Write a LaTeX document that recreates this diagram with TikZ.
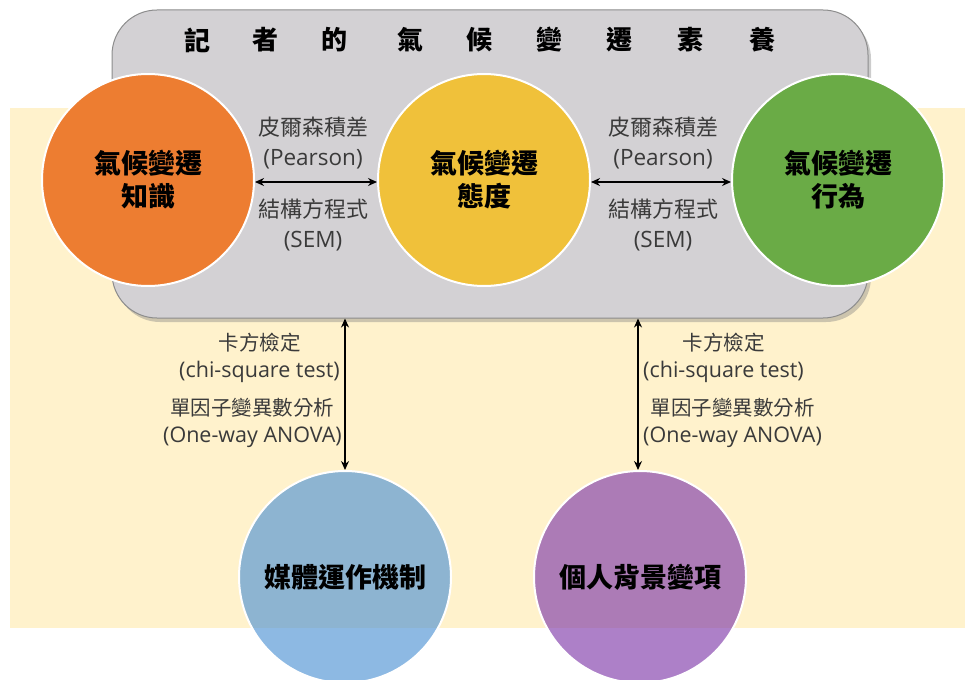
\documentclass[tikz,border=0pt]{standalone}
\usepackage{fontspec}
\setmainfont{Noto Sans CJK TC}
\newfontfamily\lat{Open Sans}
\usetikzlibrary{arrows.meta,shadows}
\definecolor{creamC}{HTML}{FFF2CC}
\definecolor{boxC}{HTML}{D3D1D4}
\definecolor{boxEdge}{HTML}{8C8C8C}
\definecolor{orangeC}{HTML}{ED7D31}
\definecolor{yellowC}{HTML}{F0C13A}
\definecolor{greenC}{HTML}{6AAB46}
\definecolor{blueC}{RGB}{80,147,212}
\definecolor{purpleC}{RGB}{129,60,171}
\definecolor{labelC}{HTML}{3A3A3A}
\newcommand{\latA}[1]{{\lat\fontsize{22.5}{30}\selectfont #1}}
\newcommand{\latB}[1]{{\lat\fontsize{21.5}{27}\selectfont #1}}
\tikzset{
  circ/.style={circle, draw=white, line width=2pt, minimum size=212pt, inner sep=0pt,
    align=center, font=\fontsize{27}{33}\selectfont\bfseries, text=black},
  lowcirc/.style={circ, fill opacity=0.65, text opacity=1},
  dbl/.style={{Stealth[length=9pt,width=8pt]}-{Stealth[length=9pt,width=8pt]}, line width=1.4pt, black},
  lbl/.style={align=center, text=labelC, font=\fontsize{22}{30}\selectfont, inner sep=0pt},
  vlbl/.style={align=center, text=labelC, font=\fontsize{20.5}{27}\selectfont, inner sep=0pt},
  ttl/.style={font=\fontsize{26}{30}\selectfont\bfseries, text=black, inner sep=0pt},
  graybox/.style={rectangle, rounded corners=45pt, fill=boxC, draw=boxEdge, line width=1pt,
    minimum width=756pt, minimum height=308pt,
    drop shadow={shadow xshift=3pt, shadow yshift=-4pt, opacity=0.4}}
}
\begin{document}
\begin{tikzpicture}[x=1pt,y=-1pt]
\useasboundingbox (0,0) rectangle (965,679);
\clip (0,0) rectangle (965,679);
\fill[creamC] (10,108) rectangle (965,628);
\node[graybox] (box) at (490,164) {};
% title
\foreach \xx/\ch [count=\i] in {197/記,265/者,334/的,410/氣,479/候,549/變,619/遷,690/素,762/養}
  \node[ttl] (t\i) at (\xx,40) {\ch};
% circles
\node[circ, fill=orangeC] (know) at (148,180) {氣候變遷\\知識};
\node[circ, fill=yellowC] (att) at (484,180) {氣候變遷\\態度};
\node[circ, fill=greenC] (beh) at (838,180) {氣候變遷\\行為};
\node[lowcirc, fill=blueC] (media) at (345,577) {媒體運作機制};
\node[lowcirc, fill=purpleC] (pers) at (640,577) {個人背景變項};
% arrows
\draw[dbl] ([yshift=-2pt]know.east) -- ([yshift=-2pt]att.west);
\draw[dbl] ([yshift=-2pt]att.east) -- ([yshift=-2pt]beh.west);
\draw[dbl] (media.north |- box.south) -- (media.north);
\draw[dbl] ([xshift=-2pt]pers.north |- box.south) -- ([xshift=-2pt]pers.north);
% labels
\node[lbl] (l1) at (313,143) {皮爾森積差\\\latA{(Pearson)}};
\node[lbl] (l2) at (313,225) {結構方程式\\\latA{(SEM)}};
\node[lbl] (r1) at (663,143) {皮爾森積差\\\latA{(Pearson)}};
\node[lbl] (r2) at (663,225) {結構方程式\\\latA{(SEM)}};
\node[vlbl, anchor=east] (v1) at (340,358) {卡方檢定\\\latB{(chi-square test)}};
\node[vlbl, anchor=east] (v2) at (342,423) {單因子變異數分析\\\latB{(One-way ANOVA)}};
\node[vlbl, anchor=west] (w1) at (643,358) {卡方檢定\\\latB{(chi-square test)}};
\node[vlbl, anchor=west] (w2) at (643,423) {單因子變異數分析\\\latB{(One-way ANOVA)}};
\end{tikzpicture}
\end{document}
